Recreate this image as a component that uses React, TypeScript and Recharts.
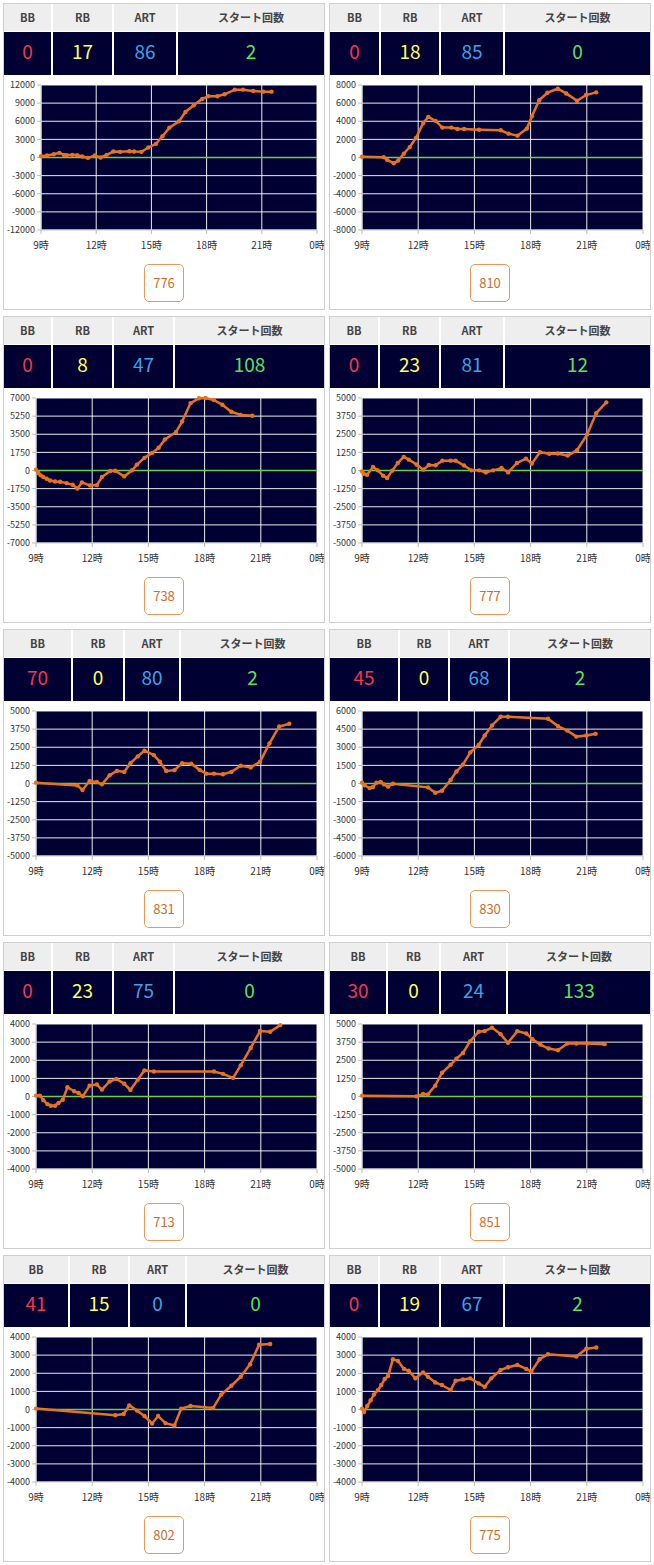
import React from 'react';
import { LineChart, Line, XAxis, YAxis, CartesianGrid, ReferenceLine } from 'recharts';

// ---- tick labels ----
const xTicks = [9, 12, 15, 18, 21, 24];
const xTickLabels = ['9時', '12時', '15時', '18時', '21時', '0時'];
const headerLabels = ['BB', 'RB', 'ART', 'スタート回数'];

// ---- counters per machine ----
const machineNumbers = [776, 810, 738, 777, 831, 830, 713, 851, 802, 775];
const bbCounts = [0, 0, 0, 0, 70, 45, 0, 30, 41, 0];
const rbCounts = [17, 18, 8, 23, 0, 0, 23, 0, 15, 19];
const artCounts = [86, 85, 47, 81, 80, 68, 75, 24, 0, 67];
const startCounts = [2, 0, 108, 12, 2, 2, 0, 133, 0, 2];

// ---- y axis ranges ----
const yMaxes = [12000, 8000, 7000, 5000, 5000, 6000, 4000, 5000, 4000, 4000];

// ---- slump series (time in hours, value in medals) ----
const time776 = [9.0, 9.33, 9.7, 10.0, 10.24, 10.4, 10.7, 10.97, 11.24, 11.55, 11.93, 12.24, 12.57, 12.93, 13.3, 13.8, 14.06, 14.46, 14.83, 15.25, 15.6, 15.98, 16.5, 16.85, 17.3, 17.76, 18.1, 18.58, 18.98, 19.53, 19.98, 20.53, 21.08, 21.53];
const diff776 = [200, 330, 550, 770, 440, 385, 440, 385, 165, -55, 330, 0, 440, 990, 935, 1045, 990, 935, 1650, 2260, 3520, 4950, 6000, 7540, 8640, 9690, 10130, 10130, 10460, 11230, 11230, 11010, 10900, 10900];

const time810 = [9.0, 10.16, 10.34, 10.7, 10.93, 11.23, 11.55, 11.88, 12.27, 12.54, 12.93, 13.29, 13.77, 14.09, 14.45, 15.25, 16.41, 16.82, 17.3, 17.8, 18.07, 18.46, 18.9, 19.45, 19.9, 20.48, 20.96, 21.5];
const diff810 = [80, 37, -260, -630, -330, 410, 1150, 2150, 3810, 4480, 4040, 3300, 3300, 3150, 3150, 3070, 3000, 2630, 2410, 3190, 4560, 6330, 7150, 7590, 7070, 6260, 6890, 7190];

const time738 = [9.0, 9.125, 9.25, 9.39, 9.57, 9.75, 10.02, 10.29, 10.64, 10.96, 11.21, 11.45, 11.89, 12.25, 12.52, 12.96, 13.23, 13.71, 14.13, 14.39, 14.79, 15.2, 15.55, 15.88, 16.48, 16.8, 17.25, 17.7, 18.05, 18.5, 18.95, 19.43, 19.93, 20.55];
const diff738 = [80, -240, -470, -630, -800, -960, -1060, -1090, -1220, -1380, -1740, -1150, -1450, -1410, -630, -50, -20, -570, 20, 570, 1220, 1700, 2190, 3000, 3720, 4730, 6510, 6970, 7000, 6800, 6350, 5670, 5370, 5280];

const time777 = [9.0, 9.09, 9.27, 9.59, 9.84, 10.13, 10.34, 10.61, 10.91, 11.23, 11.5, 11.91, 12.27, 12.57, 12.93, 13.29, 13.73, 14.0, 14.45, 14.84, 15.25, 15.61, 16.0, 16.45, 16.8, 17.27, 17.75, 18.07, 18.5, 19.0, 19.45, 19.98, 20.48, 21.02, 21.5, 22.04];
const diff777 = [-60, -220, -290, 240, 10, -360, -520, -10, 520, 940, 750, 410, 60, 380, 360, 680, 680, 680, 340, 10, 10, -130, 10, 170, -130, 520, 820, 480, 1260, 1150, 1170, 1030, 1400, 2490, 3960, 4700];

const time831 = [9.0, 11.21, 11.48, 11.86, 12.25, 12.52, 12.93, 13.32, 13.71, 14.04, 14.43, 14.79, 15.29, 15.61, 15.95, 16.39, 16.8, 17.29, 17.73, 18.09, 18.5, 18.98, 19.43, 19.93, 20.46, 20.96, 21.46, 21.98, 22.52];
const diff831 = [60, -130, -450, 170, 100, -60, 570, 870, 800, 1400, 1870, 2260, 1960, 1500, 870, 920, 1400, 1360, 940, 680, 680, 640, 800, 1220, 1100, 1500, 2770, 3930, 4120];

const time830 = [9.0, 9.14, 9.41, 9.59, 9.77, 10.0, 10.17, 10.39, 10.65, 12.52, 12.91, 13.27, 13.73, 14.04, 14.39, 14.78, 15.23, 15.55, 15.94, 16.4, 16.79, 18.93, 19.46, 19.96, 20.44, 20.98, 21.47];
const diff830 = [70, -150, -380, -290, 70, 125, -70, -260, -15, -320, -770, -600, 290, 990, 1570, 2580, 3190, 3970, 4800, 5530, 5530, 5360, 4750, 4380, 3880, 3970, 4110];

const time713 = [9.0, 9.21, 9.39, 9.61, 9.79, 10.02, 10.2, 10.43, 10.68, 11.04, 11.27, 11.5, 11.86, 12.25, 12.52, 12.93, 13.29, 13.71, 14.04, 14.43, 14.79, 15.29, 18.5, 18.98, 19.52, 19.93, 20.46, 20.96, 21.5, 22.04];
const diff713 = [50, 50, -200, -420, -510, -510, -360, -180, 510, 290, 190, 10, 600, 660, 380, 830, 970, 700, 360, 920, 1440, 1380, 1380, 1250, 1030, 1720, 2680, 3610, 3570, 3940];

const time851 = [9.0, 11.9, 12.26, 12.52, 12.91, 13.27, 13.73, 14.04, 14.39, 14.78, 15.23, 15.55, 15.94, 16.4, 16.79, 17.29, 17.77, 18.09, 18.52, 18.96, 19.46, 19.96, 20.44, 21.03, 21.95];
const diff851 = [60, 10, 170, 150, 750, 1640, 2190, 2610, 3000, 3820, 4470, 4510, 4750, 4300, 3700, 4510, 4350, 3960, 3580, 3310, 3190, 3650, 3650, 3650, 3610];

const time802 = [9.0, 13.23, 13.68, 13.98, 14.39, 14.79, 15.2, 15.52, 15.91, 16.39, 16.75, 17.25, 18.46, 18.89, 19.43, 19.93, 20.43, 20.91, 21.5];
const diff802 = [50, -320, -250, 230, -60, -360, -770, -360, -750, -880, 50, 190, 80, 830, 1310, 1810, 2500, 3570, 3610];

const time775 = [9.0, 9.11, 9.28, 9.46, 9.64, 9.85, 10.03, 10.21, 10.39, 10.65, 10.92, 11.24, 11.49, 11.85, 12.26, 12.52, 12.91, 13.27, 13.73, 14.0, 14.39, 14.78, 15.23, 15.55, 15.9, 16.4, 16.79, 17.29, 17.77, 18.04, 18.48, 18.93, 20.44, 20.98, 21.51];
const diff775 = [50, -140, 190, 510, 830, 1070, 1350, 1680, 1850, 2770, 2680, 2240, 2140, 1720, 2050, 1810, 1490, 1350, 1070, 1590, 1660, 1720, 1440, 1250, 1720, 2180, 2330, 2460, 2240, 2090, 2770, 3050, 2920, 3350, 3420];

const seriesTimes = [time776, time810, time738, time777, time831, time830, time713, time851, time802, time775];
const seriesValues = [diff776, diff810, diff738, diff777, diff831, diff830, diff713, diff851, diff802, diff775];

// header column boundaries (layout only)
const colBounds = [
  [49, 110, 174],
  [51, 111, 175],
  [49, 110, 171],
  [50, 111, 175],
  [69, 121, 177],
  [70, 120, 180],
  [49, 110, 171],
  [58, 111, 178],
  [66, 126, 183],
  [50, 111, 175],
];

const ORANGE = '#e8731f';
const NAVY = '#000033';
const FONT = '"Noto Sans CJK JP", "Noto Sans", sans-serif';
const valueColors = ['#f0384f', '#ffff5a', '#3fa2e6', '#5ee05e'];

function SlumpChart({ idx }: { idx: number }) {
  const times = seriesTimes[idx];
  const values = seriesValues[idx];
  const yMax = yMaxes[idx];
  const step = yMax / 4;
  const yTicks = [-4, -3, -2, -1, 0, 1, 2, 3, 4].map((k) => k * step);
  const data = times.map((t, i) => ({ t, v: values[i] }));
  const yWidth = String(-yMax).length >= 6 ? 37 : 32;
  return (
    <LineChart width={320} height={183} data={data} margin={{ top: 8, right: 7, bottom: 0, left: 0 }}>
      <CartesianGrid fill={NAVY} stroke="#ffffff" strokeOpacity={0.92} horizontal vertical />
      <XAxis
        dataKey="t"
        type="number"
        domain={[9, 24]}
        ticks={xTicks}
        interval={0}
        tickFormatter={(h: number) => xTickLabels[xTicks.indexOf(h)]}
        height={30}
        tickSize={4}
        tickMargin={8}
        tick={{ fontSize: 10, fill: '#333', fontFamily: FONT }}
        tickLine={{ stroke: '#bbb' }}
        axisLine={{ stroke: '#ccc' }}
      />
      <YAxis
        type="number"
        domain={[-yMax, yMax]}
        ticks={yTicks}
        interval={0}
        width={yWidth}
        tickSize={4}
        tickMargin={2}
        tick={{ fontSize: 9, fill: '#333', fontFamily: FONT }}
        tickLine={{ stroke: '#bbb' }}
        axisLine={{ stroke: '#ccc' }}
      />
      <ReferenceLine y={0} stroke="#6ccf4a" strokeWidth={1.5} />
      <Line
        dataKey="v"
        type="linear"
        stroke={ORANGE}
        strokeWidth={2.5}
        dot={{ r: 2.2, fill: ORANGE, stroke: ORANGE, strokeWidth: 0 }}
        isAnimationActive={false}
      />
    </LineChart>
  );
}

function Panel({ idx }: { idx: number }) {
  const col = idx % 2;
  const row = Math.floor(idx / 2);
  const left = col === 0 ? 3 : 329;
  const top = 3 + row * 313;
  const bounds = colBounds[idx];
  const edges = [0, bounds[0], bounds[1], bounds[2], 320];
  const vals = [bbCounts[idx], rbCounts[idx], artCounts[idx], startCounts[idx]];
  return (
    <div
      style={{
        position: 'absolute',
        left,
        top,
        width: 322,
        height: 307,
        border: '1px solid #cfcfcf',
        boxSizing: 'border-box',
        background: '#fff',
      }}
    >
      {headerLabels.map((h, i) => (
        <div
          key={'h' + i}
          style={{
            position: 'absolute',
            left: edges[i],
            top: 0,
            width: edges[i + 1] - edges[i] - (i < 3 ? 2 : 0),
            height: 27,
            background: '#eeeeee',
            color: '#444',
            fontFamily: FONT,
            fontWeight: 700,
            fontSize: 11,
            lineHeight: '26px',
            textAlign: 'center',
          }}
        >
          {h}
        </div>
      ))}
      {vals.map((v, i) => (
        <div
          key={'v' + i}
          style={{
            position: 'absolute',
            left: edges[i],
            top: 28,
            width: edges[i + 1] - edges[i] - (i < 3 ? 2 : 0),
            height: 43,
            background: NAVY,
            color: valueColors[i],
            fontFamily: FONT,
            fontSize: 19,
            lineHeight: '38px',
            textAlign: 'center',
          }}
        >
          {v}
        </div>
      ))}
      <div style={{ position: 'absolute', left: 0, top: 73 }}>
        <SlumpChart idx={idx} />
      </div>
      <div
        style={{
          position: 'absolute',
          left: 140,
          top: 260,
          width: 40,
          height: 38,
          boxSizing: 'border-box',
          border: '1px solid #e59a5a',
          borderRadius: 5,
          color: '#c8702e',
          fontFamily: FONT,
          fontSize: 13,
          lineHeight: '35px',
          textAlign: 'center',
          background: '#fff',
        }}
      >
        {machineNumbers[idx]}
      </div>
    </div>
  );
}

export default function App() {
  return (
    <div style={{ position: 'absolute', left: 0, top: 0, width: 654, height: 1565, background: '#fff' }}>
      {machineNumbers.map((_, i) => (
        <Panel key={i} idx={i} />
      ))}
    </div>
  );
}
